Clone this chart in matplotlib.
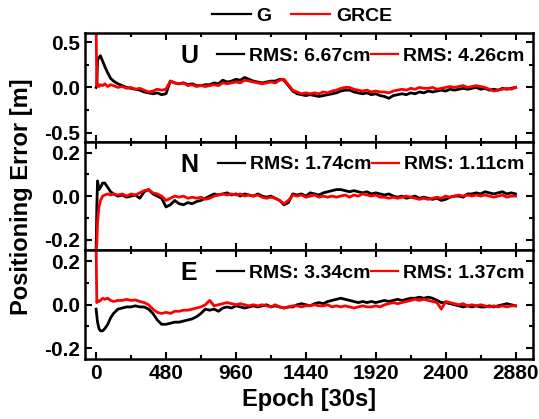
import matplotlib
matplotlib.use("Agg")
import matplotlib.pyplot as plt
from matplotlib.lines import Line2D
from matplotlib.ticker import MultipleLocator, FormatStrFormatter

plt.rcParams["font.family"] = ["Liberation Sans", "DejaVu Sans"]
plt.rcParams["font.weight"] = "bold"
plt.rcParams["axes.unicode_minus"] = False

# Epochs (30 s sampling): dense at start-up, then every 30 epochs
epochs = [0, 5, 10, 20, 30, 45, 60, 80, 100, 120, 150] + list(range(180, 2881, 30))

# Up component [m]
u_g = [0.0, 0.02, 0.30, 0.33, 0.35, 0.29, 0.23, 0.16, 0.10, 0.07, 0.04,
       0.02, 0.00, -0.01, -0.02, -0.03, -0.05, -0.06, -0.07, -0.06, -0.08,
       -0.07, 0.07, 0.05, 0.04, 0.05, 0.03, 0.04, 0.02, 0.02, 0.03,
       0.03, 0.05, 0.04, 0.08, 0.06, 0.07, 0.09, 0.08, 0.11, 0.09,
       0.07, 0.06, 0.05, 0.06, 0.07, 0.07, 0.09, 0.08, 0.02, -0.04,
       -0.07, -0.08, -0.09, -0.08, -0.09, -0.10, -0.09, -0.08, -0.07, -0.06,
       -0.04, -0.03, -0.03, -0.05, -0.06, -0.07, -0.06, -0.08, -0.07, -0.09,
       -0.10, -0.12, -0.09, -0.08, -0.07, -0.08, -0.06, -0.07, -0.05, -0.06,
       -0.04, -0.05, -0.04, -0.03, -0.04, -0.02, -0.03, -0.02, -0.01, -0.02,
       -0.01, 0.00, -0.02, -0.01, -0.03, -0.02, -0.03, -0.01, -0.02, -0.01,
       0.00]
u_grce = [0.70, 0.02, 0.04, 0.01, 0.03, 0.02, 0.04, 0.01, 0.03, 0.02, 0.00,
          0.01, -0.01, 0.00, -0.02, -0.01, -0.03, -0.05, -0.04, -0.02, -0.03,
          -0.02, 0.07, 0.05, 0.04, 0.05, 0.02, 0.03, 0.01, 0.02, 0.01,
          0.02, 0.03, 0.02, 0.05, 0.04, 0.05, 0.06, 0.05, 0.08, 0.07,
          0.06, 0.05, 0.04, 0.05, 0.06, 0.05, 0.08, 0.09, 0.03, -0.03,
          -0.05, -0.07, -0.06, -0.07, -0.06, -0.07, -0.05, -0.06, -0.04, -0.03,
          -0.01, 0.00, 0.00, -0.02, -0.03, -0.04, -0.03, -0.05, -0.04, -0.05,
          -0.05, -0.06, -0.04, -0.03, -0.02, -0.03, -0.01, -0.02, 0.00, -0.01,
          -0.01, 0.00, -0.02, -0.01, 0.00, 0.01, 0.00, 0.01, 0.02, 0.00,
          0.01, 0.02, 0.01, 0.00, -0.02, -0.04, -0.03, -0.02, -0.01, -0.02,
          0.00]

# North component [m]
n_g = [-0.26, -0.05, 0.07, 0.03, 0.04, 0.06, 0.06, 0.04, 0.02, 0.01, 0.00,
       0.005, -0.005, 0.00, 0.005, -0.01, 0.02, 0.03, 0.01, 0.00, -0.01,
       -0.05, -0.04, -0.02, -0.035, -0.04, -0.03, -0.035, -0.025, -0.02, -0.01,
       0.00, 0.01, 0.005, 0.01, 0.015, 0.005, 0.01, 0.00, 0.01, 0.005,
       0.00, 0.01, 0.00, -0.005, 0.00, -0.01, -0.02, -0.04, -0.03, 0.01,
       0.005, 0.01, 0.00, 0.015, 0.01, 0.005, 0.015, 0.02, 0.025, 0.03,
       0.03, 0.025, 0.02, 0.025, 0.02, 0.015, 0.02, 0.01, 0.015, 0.01,
       0.005, 0.01, 0.00, -0.005, 0.00, -0.01, -0.005, 0.00, -0.01, -0.005,
       -0.01, -0.015, -0.01, -0.02, -0.015, -0.005, 0.00, 0.00, -0.005, 0.01,
       0.01, 0.015, 0.01, 0.02, 0.015, 0.01, 0.015, 0.02, 0.01, 0.015,
       0.01]
n_grce = [-0.26, -0.22, -0.12, -0.05, -0.02, 0.00, 0.005, 0.01, 0.005, 0.01, 0.005,
          0.01, 0.00, 0.01, 0.005, 0.015, 0.025, 0.03, 0.015, 0.01, 0.00,
          -0.02, -0.01, 0.00, -0.005, 0.00, -0.01, -0.005, -0.01, -0.005, -0.015,
          -0.01, 0.00, 0.005, 0.01, 0.005, 0.01, 0.005, 0.01, 0.00, 0.005,
          0.00, 0.005, -0.005, -0.01, -0.005, -0.01, -0.02, -0.035, -0.02, 0.005,
          0.00, 0.005, -0.005, 0.00, 0.005, -0.005, 0.00, -0.005, 0.00, -0.005,
          0.00, 0.005, -0.005, 0.005, 0.00, 0.01, 0.005, 0.00, 0.005, -0.005,
          -0.005, -0.01, -0.005, -0.01, -0.005, 0.00, -0.005, -0.01, -0.015, -0.01,
          -0.015, -0.01, -0.005, -0.01, 0.00, -0.005, 0.00, 0.005, 0.00, 0.005,
          0.00, 0.005, 0.00, 0.005, 0.00, -0.005, 0.00, 0.005, -0.005, 0.00,
          0.00]

# East component [m]
e_g = [-0.02, -0.05, -0.08, -0.11, -0.12, -0.12, -0.11, -0.09, -0.06, -0.04, -0.02,
       -0.015, -0.01, -0.01, -0.005, -0.01, -0.01, -0.02, -0.04, -0.07, -0.09,
       -0.09, -0.085, -0.08, -0.08, -0.075, -0.07, -0.065, -0.055, -0.04, -0.02,
       -0.025, -0.02, -0.03, -0.015, -0.01, -0.015, -0.005, -0.01, -0.015, -0.01,
       -0.005, -0.01, -0.005, 0.00, -0.01, -0.005, -0.01, -0.015, -0.01, -0.01,
       0.00, 0.005, 0.00, -0.005, 0.005, 0.01, 0.005, 0.015, 0.02, 0.025,
       0.03, 0.025, 0.02, 0.015, 0.01, 0.015, 0.01, 0.015, 0.01, 0.015,
       0.02, 0.015, 0.02, 0.025, 0.02, 0.025, 0.03, 0.03, 0.035, 0.03,
       0.035, 0.03, 0.02, 0.01, 0.01, 0.005, 0.00, -0.005, -0.01, -0.005,
       -0.01, -0.005, -0.01, -0.01, -0.005, -0.01, -0.005, 0.00, 0.005, 0.00,
       -0.005]
e_grce = [0.28, 0.01, 0.02, 0.015, 0.02, 0.03, 0.025, 0.03, 0.02, 0.015, 0.02,
          0.02, 0.025, 0.02, 0.022, 0.015, 0.01, 0.00, -0.02, -0.035, -0.04,
          -0.035, -0.04, -0.03, -0.03, -0.025, -0.025, -0.02, -0.015, -0.01, 0.00,
          0.02, -0.005, 0.00, 0.005, 0.01, 0.005, 0.00, 0.005, 0.00, -0.005,
          0.00, -0.005, 0.00, -0.005, -0.01, 0.00, -0.01, -0.015, -0.01, -0.005,
          -0.005, -0.01, -0.005, -0.005, 0.00, -0.005, -0.005, 0.00, -0.01, -0.005,
          -0.01, -0.005, -0.01, -0.015, -0.01, -0.005, -0.01, -0.01, -0.005, -0.01,
          0.00, 0.005, 0.01, 0.005, 0.01, 0.015, 0.02, 0.025, 0.02, 0.025,
          0.02, 0.015, 0.01, -0.02, 0.015, 0.01, 0.005, 0.00, 0.005, -0.005,
          0.00, -0.005, 0.00, -0.005, -0.01, -0.005, -0.01, -0.005, -0.01, -0.005,
          -0.005]

components = ["U", "N", "E"]
series_g = [u_g, n_g, e_g]
series_grce = [u_grce, n_grce, e_grce]
rms_g = ["6.67", "1.74", "3.34"]
rms_grce = ["4.26", "1.11", "1.37"]
ylims = [(-0.6, 0.6), (-0.25, 0.25), (-0.25, 0.25)]
ymajor = [0.5, 0.2, 0.2]
xticks = [0, 480, 960, 1440, 1920, 2400, 2880]

fig = plt.figure(figsize=(5.39, 4.19), dpi=100)
gs = fig.add_gridspec(3, 1, left=0.158, right=0.989, top=0.921, bottom=0.143, hspace=0)
axes = [fig.add_subplot(gs[i]) for i in range(3)]

for i, ax in enumerate(axes):
    ax.plot(epochs, series_g[i], color="black", lw=2.0)
    ax.plot(epochs, series_grce[i], color="red", lw=2.0)
    ax.set_xlim(-75, 3000)
    ax.set_ylim(*ylims[i])
    ax.set_xticks(xticks)
    ax.xaxis.set_minor_locator(MultipleLocator(240))
    ax.yaxis.set_major_locator(MultipleLocator(ymajor[i]))
    ax.yaxis.set_minor_locator(MultipleLocator(ymajor[i] / 2))
    ax.yaxis.set_major_formatter(FormatStrFormatter("%.1f"))
    ax.tick_params(which="both", direction="in", top=True, right=True, width=1.5)
    ax.tick_params(which="major", length=5, labelsize=15)
    ax.tick_params(which="minor", length=3)
    for sp in ax.spines.values():
        sp.set_linewidth(1.8)
    if i < 2:
        ax.tick_params(labelbottom=False)
    for lab in ax.get_xticklabels() + ax.get_yticklabels():
        lab.set_fontweight("bold")

    ax.text(0.232, 0.79, components[i], transform=ax.transAxes, fontsize=18,
            fontweight="bold", ha="center", va="center")
    handles = [Line2D([], [], color="black", lw=1.6), Line2D([], [], color="red", lw=1.6)]
    ax.legend(handles, ["RMS: %scm" % rms_g[i], "RMS: %scm" % rms_grce[i]],
              ncol=2, loc="center right", bbox_to_anchor=(0.98, 0.79),
              frameon=False, prop={"weight": "bold", "size": 14},
              handlelength=1.4, handletextpad=0.25, columnspacing=0.0,
              borderpad=0, borderaxespad=0)

axes[2].set_xlabel("Epoch [30s]", fontsize=17, fontweight="bold", labelpad=4)
fig.text(0.04, 0.53, "Positioning Error [m]", rotation=90, fontsize=17,
         fontweight="bold", ha="center", va="center")

top_handles = [Line2D([], [], color="black", lw=1.6), Line2D([], [], color="red", lw=1.6)]
fig.legend(top_handles, ["G", "GRCE"], ncol=2, loc="center", bbox_to_anchor=(0.56, 0.962),
           frameon=False, prop={"weight": "bold", "size": 14},
           handlelength=2.0, handletextpad=0.3, columnspacing=1.0)

fig.savefig("out.png", dpi=100)
